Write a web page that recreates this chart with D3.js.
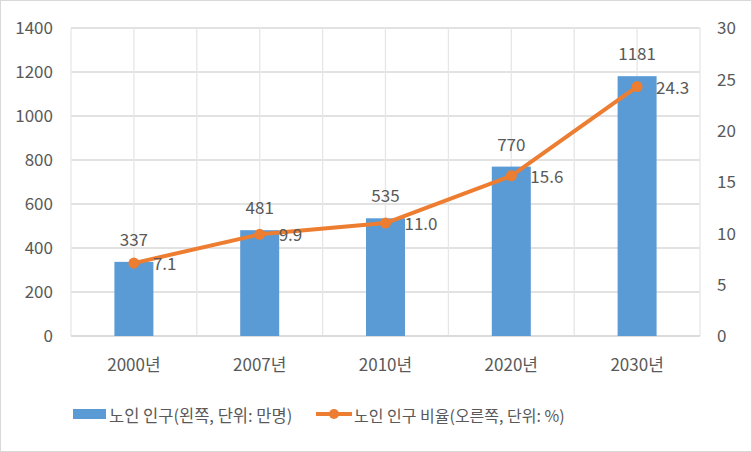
<!DOCTYPE html>
<html><head><meta charset="utf-8">
<script src="https://cdn.jsdelivr.net/npm/d3@7"></script>
<style>body{margin:0;background:#fff}svg{display:block}text{font-family:"Noto Sans CJK KR","Noto Sans",sans-serif;fill:#595959}</style>
</head><body>
<script>
const categories = ["2000년","2007년","2010년","2020년","2030년"];
const population = [337,481,535,770,1181];
const ratio = [7.1,9.9,11.0,15.6,24.3];
const leftTicks = [0,200,400,600,800,1000,1200,1400];
const rightTicks = [0,5,10,15,20,25,30];
const legendLabels = ["노인 인구(왼쪽, 단위: 만명)","노인 인구 비율(오른쪽, 단위: %)"];

const W=752,H=452, L=71, R=700, T=28, B=336;
const svg=d3.select("body").append("svg").attr("width",W).attr("height",H);
svg.append("rect").attr("x",0.5).attr("y",0.5).attr("width",W-1).attr("height",H-1).attr("fill","#fff").attr("stroke","#d9d9d9");

const x=d3.scaleBand().domain(categories).range([L,R]);
const y=d3.scaleLinear().domain([0,1400]).range([B,T]);
const y2=d3.scaleLinear().domain([0,30]).range([B,T]);
const cx=d=>x(d)+x.bandwidth()/2;

// grid
const g=svg.append("g");
leftTicks.forEach(t=>g.append("line").attr("x1",L).attr("x2",R).attr("y1",y(t)).attr("y2",y(t)).attr("stroke","#d9d9d9").attr("stroke-width",1.3));
const vx=[];
categories.forEach(c=>{vx.push(x(c));vx.push(cx(c));});
vx.push(R);
vx.forEach(v=>g.append("line").attr("x1",v).attr("x2",v).attr("y1",T).attr("y2",B).attr("stroke","#e6e6e6").attr("stroke-width",1.3));

const FS=17;
// axes
const ax=svg.append("g").attr("transform",`translate(${L-18},0)`).call(d3.axisLeft(y).tickValues(leftTicks).tickFormat(d3.format("d")).tickSize(0).tickPadding(0));
ax.select(".domain").remove();
ax.selectAll("text").attr("font-size",FS).attr("dy","0.35em").attr("fill","#595959");
const ax2=svg.append("g").attr("transform",`translate(${R+17},0)`).call(d3.axisRight(y2).tickValues(rightTicks).tickFormat(d3.format("d")).tickSize(0).tickPadding(0));
ax2.select(".domain").remove();
ax2.selectAll("text").attr("font-size",FS).attr("dy","0.35em").attr("fill","#595959");
const axb=svg.append("g").attr("transform",`translate(0,${B+22})`).call(d3.axisBottom(x).tickSize(0).tickPadding(0));
axb.select(".domain").remove();
axb.selectAll("text").attr("font-size",FS).attr("dy","0.75em").attr("fill","#595959");

// baseline
svg.append("line").attr("x1",L).attr("x2",R).attr("y1",B).attr("y2",B).attr("stroke","#d9d9d9").attr("stroke-width",1.3);

// bars
const bw=39;
svg.selectAll(".bar").data(population).enter().append("rect")
 .attr("x",(d,i)=>cx(categories[i])-bw/2).attr("width",bw)
 .attr("y",d=>y(d)).attr("height",d=>B-y(d)).attr("fill","#5b9bd5");
svg.selectAll(".bl").data(population).enter().append("text")
 .attr("x",(d,i)=>cx(categories[i])).attr("y",d=>y(d)-16).attr("text-anchor","middle").attr("font-size",FS).attr("fill","#404040").text(d=>d);

// line
const line=d3.line().x((d,i)=>cx(categories[i])).y(d=>y2(d));
svg.append("path").datum(ratio).attr("d",line).attr("fill","none").attr("stroke","#ed7d31").attr("stroke-width",4).attr("stroke-linejoin","round");
svg.selectAll(".pt").data(ratio).enter().append("circle")
 .attr("cx",(d,i)=>cx(categories[i])).attr("cy",d=>y2(d)).attr("r",5.5).attr("fill","#ed7d31");
svg.selectAll(".ll").data(ratio).enter().append("text")
 .attr("x",(d,i)=>cx(categories[i])+19).attr("y",d=>y2(d)+7).attr("font-size",FS).attr("fill","#404040").text(d=>d.toFixed(1));

// legend
const lg=svg.append("g");
lg.append("rect").attr("x",73).attr("y",409).attr("width",33).attr("height",10).attr("fill","#5b9bd5");
lg.append("text").attr("x",109).attr("y",420).attr("font-size",16.5).attr("dy","0.1em").text(legendLabels[0]);
lg.append("line").attr("x1",316).attr("x2",352).attr("y1",414).attr("y2",414).attr("stroke","#ed7d31").attr("stroke-width",4);
lg.append("circle").attr("cx",334).attr("cy",414).attr("r",5).attr("fill","#ed7d31");
lg.append("text").attr("x",354).attr("y",420).attr("font-size",16).attr("dy","0.1em").text(legendLabels[1]);
</script>
</body></html>
